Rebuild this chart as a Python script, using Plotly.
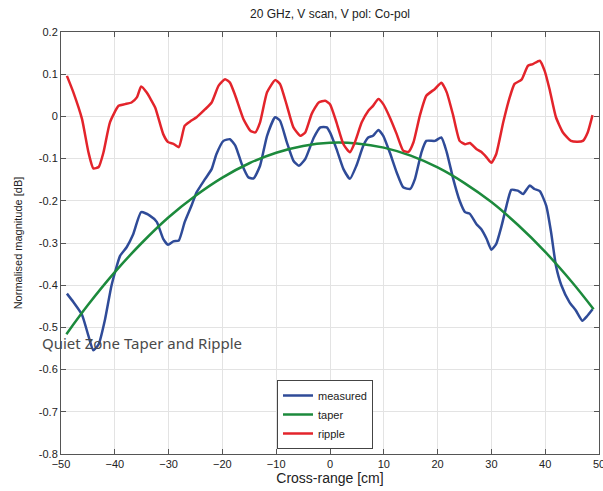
import plotly.graph_objects as go

# ---- data ----
x_measured = [-48.9, -47.7, -46.1, -44.9, -44.0, -43.0, -41.8, -40.6, -39.0, -37.8,
              -36.6, -35.1, -33.5, -32.2, -31.0, -30.1, -29.1, -28.1, -27.0, -25.7,
              -24.8, -23.2, -22.0, -21.1, -19.8, -18.6, -17.6, -16.4, -15.2, -14.2,
              -13.0, -11.7, -10.2, -9.3, -8.0, -6.8, -5.8, -4.6, -3.0, -1.8,
              -0.6, 0.0, 1.2, 2.5, 3.7, 4.9, 6.2, 7.1, 8.0, 9.0,
              9.9, 11.1, 12.4, 13.6, 14.9, 15.8, 17.0, 17.9, 19.5, 20.7,
              21.7, 22.9, 24.1, 25.1, 26.0, 27.2, 28.1, 29.1, 30.0, 30.9,
              31.9, 32.8, 33.7, 34.9, 35.9, 37.1, 38.0, 39.0, 40.2, 41.1,
              42.0, 43.0, 44.5, 45.7, 46.9, 47.8, 48.8]
measured = [-0.420, -0.440, -0.470, -0.520, -0.554, -0.540, -0.480, -0.400, -0.330, -0.310,
            -0.280, -0.227, -0.235, -0.250, -0.290, -0.304, -0.296, -0.294, -0.250, -0.210,
            -0.180, -0.148, -0.125, -0.089, -0.058, -0.054, -0.069, -0.113, -0.144, -0.147,
            -0.117, -0.046, -0.002, -0.010, -0.062, -0.105, -0.117, -0.101, -0.050, -0.026,
            -0.026, -0.038, -0.077, -0.125, -0.148, -0.117, -0.069, -0.050, -0.046, -0.032,
            -0.046, -0.085, -0.133, -0.168, -0.172, -0.148, -0.085, -0.058, -0.058, -0.050,
            -0.085, -0.148, -0.200, -0.227, -0.231, -0.255, -0.267, -0.290, -0.316, -0.302,
            -0.259, -0.212, -0.174, -0.176, -0.184, -0.164, -0.172, -0.177, -0.212, -0.275,
            -0.354, -0.400, -0.440, -0.460, -0.484, -0.473, -0.457]

x_taper = [-49, -45, -40, -35, -30, -25, -20, -15, -10, -5, 0,
           5, 10, 15, 20, 25, 30, 35, 40, 45, 49]
taper = [-0.516, -0.447, -0.369, -0.300, -0.239, -0.188, -0.145, -0.111, -0.086, -0.070, -0.0625,
         -0.064, -0.074, -0.093, -0.121, -0.158, -0.203, -0.258, -0.321, -0.393, -0.457]

x_ripple = [-48.9, -47.7, -46.1, -44.9, -44.0, -43.0, -42.1, -40.9, -39.3, -38.1,
            -36.9, -35.9, -35.1, -34.1, -32.5, -31.0, -30.1, -29.1, -28.1, -27.0,
            -26.0, -24.8, -23.2, -22.0, -20.7, -19.5, -18.6, -17.6, -16.1, -14.8,
            -13.9, -13.0, -11.7, -10.2, -9.3, -8.0, -6.8, -5.5, -4.6, -3.4,
            -2.1, -0.9, 0.0, 1.2, 2.5, 3.7, 4.6, 5.9, 7.1, 8.0,
            9.0, 9.9, 11.1, 12.4, 13.6, 14.6, 15.5, 16.7, 17.9, 19.5,
            20.7, 21.7, 22.9, 24.1, 25.1, 26.0, 27.2, 28.1, 29.1, 30.0,
            30.9, 32.2, 33.4, 34.3, 35.6, 36.8, 37.7, 39.0, 39.9, 40.8,
            42.0, 43.3, 44.8, 46.0, 47.0, 47.9, 48.8]
ripple = [0.096, 0.057, -0.006, -0.085, -0.123, -0.120, -0.085, -0.014, 0.025, 0.029,
          0.033, 0.045, 0.071, 0.057, 0.021, -0.042, -0.061, -0.065, -0.073, -0.022,
          -0.012, -0.002, 0.017, 0.033, 0.073, 0.088, 0.080, 0.049, -0.006, -0.034,
          -0.038, -0.014, 0.057, 0.086, 0.077, 0.025, -0.026, -0.046, -0.038, 0.006,
          0.033, 0.037, 0.029, -0.014, -0.066, -0.085, -0.062, -0.014, 0.013, 0.025,
          0.041, 0.029, -0.002, -0.042, -0.081, -0.084, -0.062, 0.002, 0.049, 0.065,
          0.080, 0.057, 0.002, -0.058, -0.066, -0.063, -0.077, -0.084, -0.097, -0.110,
          -0.089, -0.014, 0.045, 0.077, 0.087, 0.120, 0.124, 0.132, 0.108, 0.065,
          -0.002, -0.038, -0.058, -0.060, -0.058, -0.038, 0.003]

x_ticks = [-50, -40, -30, -20, -10, 0, 10, 20, 30, 40, 50]
y_ticks = [0.2, 0.1, 0.0, -0.1, -0.2, -0.3, -0.4, -0.5, -0.6, -0.7, -0.8]
y_tick_labels = ["0.2", "0.1", "0", "-0.1", "-0.2", "-0.3", "-0.4", "-0.5", "-0.6", "-0.7", "-0.8"]

title_text = "20 GHz, V scan, V pol: Co-pol"
overlay_text = "Quiet Zone Taper and Ripple"

# ---- figure ----
fig = go.Figure()
fig.add_trace(go.Scatter(x=x_measured, y=measured, mode="lines", name="measured",
                         line=dict(color="#2f4b98", width=2.5, shape="spline", smoothing=0.5)))
fig.add_trace(go.Scatter(x=x_taper, y=taper, mode="lines", name="taper",
                         line=dict(color="#1c8a3c", width=2.5, shape="spline", smoothing=1.0)))
fig.add_trace(go.Scatter(x=x_ripple, y=ripple, mode="lines", name="ripple",
                         line=dict(color="#e3242b", width=2.5, shape="spline", smoothing=0.5)))

axis_font = dict(family="Liberation Sans, Arial, sans-serif", size=11, color="#222222")

fig.update_layout(
    width=603, height=491,
    margin=dict(l=61, r=4, t=32, b=37, autoexpand=False),
    paper_bgcolor="white", plot_bgcolor="white",
    font=axis_font,
    title=dict(text=title_text, x=0.5, xref="paper", y=1 - 14 / 491, yref="container",
               xanchor="center", yanchor="middle", automargin=False,
               font=dict(family="Liberation Sans, Arial, sans-serif", size=12, color="#222222")),
    showlegend=True,
    legend=dict(x=(277 - 61) / 538, y=5 / 422, xanchor="left", yanchor="bottom",
                bgcolor="white", bordercolor="#444444", borderwidth=1,
                font=dict(family="Liberation Sans, Arial, sans-serif", size=11, color="#222222"),
                tracegroupgap=0, itemwidth=30),
    annotations=[dict(text=overlay_text, xref="paper", yref="paper",
                      x=(40 - 61) / 538, y=(454 - 343) / 422, xanchor="left", yanchor="middle",
                      showarrow=False,
                      font=dict(family="Noto Sans, sans-serif", size=15, color="#4a4a4a"))],
)

fig.update_xaxes(range=[-50, 50], tickvals=x_ticks, ticks="inside", ticklen=5,
                 tickcolor="#555555", showline=True, linecolor="#555555", linewidth=1,
                 mirror="ticks", showgrid=True, gridcolor="#e3e3e3", gridwidth=1,
                 zeroline=False, tickfont=axis_font, automargin=False,
                 ticklabeloverflow="allow",
                 title=dict(text="Cross-range [cm]", standoff=3,
                            font=dict(family="Liberation Sans, Arial, sans-serif", size=14, color="#222222")))
fig.update_yaxes(range=[-0.8, 0.2], tickvals=y_ticks, ticktext=y_tick_labels, ticks="inside",
                 ticklen=5, tickcolor="#555555", showline=True, linecolor="#555555", linewidth=1,
                 mirror="ticks", showgrid=True, gridcolor="#e3e3e3", gridwidth=1,
                 zeroline=False, tickfont=axis_font, automargin=False,
                 ticklabeloverflow="allow",
                 title=dict(text="Normalised magnitude [dB]", standoff=13,
                            font=dict(family="Liberation Sans, Arial, sans-serif", size=11, color="#222222")))

fig.write_html("out.html", config={"displayModeBar": False},
               post_script="document.body.style.margin='0';document.body.style.overflow='hidden';")
